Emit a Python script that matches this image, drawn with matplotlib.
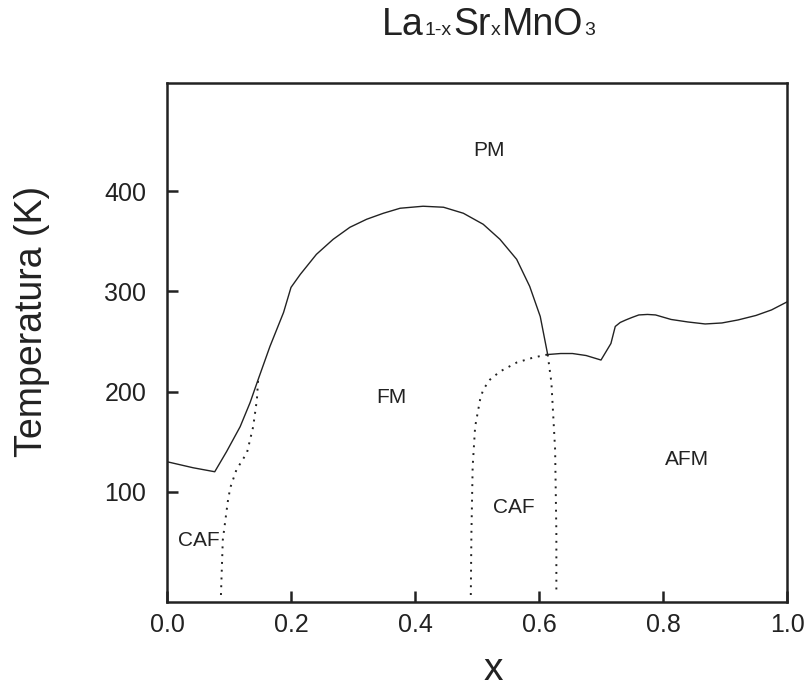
import numpy as np
import matplotlib
matplotlib.use("Agg")
import matplotlib.pyplot as plt

plt.rcParams['font.family'] = ['Liberation Sans', 'DejaVu Sans']

# solid boundary, x = 0 .. 0.614 (CAF/FM -> PM)
xa = [0.0, 0.042, 0.077, 0.096, 0.118, 0.134, 0.147, 0.166, 0.188, 0.200,
      0.215, 0.241, 0.268, 0.295, 0.322, 0.349, 0.376, 0.413, 0.446, 0.478,
      0.510, 0.537, 0.564, 0.585, 0.602, 0.614]
ta = [130, 124, 120, 140, 165, 189, 212, 245, 279, 304,
      317, 337, 352, 364, 372, 378, 383, 385, 384, 378,
      367, 352, 332, 305, 275, 237]

# solid boundary, x = 0.614 .. 1.0 (AFM -> PM)
xb = [0.614, 0.635, 0.654, 0.676, 0.700, 0.716, 0.723, 0.731, 0.740, 0.750,
      0.761, 0.775, 0.788, 0.813, 0.840, 0.868, 0.895, 0.921, 0.950, 0.975, 1.0]
tb = [237, 238, 238, 236, 231.5, 248, 265, 269, 271.5, 274,
      276.5, 277, 276.5, 272, 269.5, 267.5, 268.5, 271.5, 276, 281.5, 289.5]

# dotted boundaries
xc1 = [0.087, 0.090, 0.098, 0.102, 0.112, 0.129, 0.139, 0.145, 0.147]
tc1 = [-3, 52, 90, 104, 122, 139, 165, 192, 212]

xc2 = [0.490, 0.491, 0.493, 0.497, 0.505, 0.510, 0.521, 0.537, 0.564, 0.591, 0.614]
tc2 = [-3, 59, 125, 165, 192, 202, 212, 220, 229, 234, 237]

xc3 = [0.614, 0.620, 0.626, 0.628, 0.628]
tc3 = [237, 209, 142, 59, -3]

phases = ['PM', 'FM', 'CAF', 'CAF', 'AFM']
phase_x = [0.52, 0.362, 0.051, 0.560, 0.838]
phase_t = [441, 194, 51, 84, 132]

# title pieces: (text, is_subscript)
title_parts = [('La', False), ('1-x', True), ('Sr', False), ('x', True),
               ('MnO', False), ('3', True)]

fig = plt.figure(figsize=(8.08, 6.89), dpi=100)
ax = fig.add_axes([167 / 808, 87 / 689, 620 / 808, 519 / 689])

c = '#222222'
ax.plot(xa, ta, color=c, lw=1.0)
ax.plot(xb, tb, color=c, lw=1.0)
for xs, ts in [(xc1, tc1), (xc2, tc2), (xc3, tc3)]:
    ax.plot(xs, ts, color=c, lw=1.4, linestyle=(0, (1, 3)))

for name, px, pt in zip(phases, phase_x, phase_t):
    ax.text(px, pt, name, fontsize=15, ha='center', va='center', color=c)

ax.set_xlim(0, 1)
ax.set_ylim(-10, 508)
ax.set_xticks([0.0, 0.2, 0.4, 0.6, 0.8, 1.0])
ax.set_xticklabels(['0.0', '0.2', '0.4', '0.6', '0.8', '1.0'])
ax.set_yticks([100, 200, 300, 400])
ax.tick_params(direction='in', length=8, width=1.8, labelsize=18,
               colors=c, labelcolor=c)
ax.tick_params(axis='y', pad=15)
ax.tick_params(axis='x', pad=8)
for s in ax.spines.values():
    s.set_linewidth(1.8)
    s.set_color(c)

ax.set_ylabel('Temperatura (K)', fontsize=27, color=c)
ax.yaxis.set_label_coords(-0.189, 0.54)
ax.set_xlabel('x', fontsize=28, color=c)
ax.xaxis.label.set_va('center')
ax.xaxis.set_label_coords(0.527, -0.131)

# title built piece by piece so the subscripts are small and sit on the baseline
renderer = fig.canvas.get_renderer()
x_px = 382
base_px = 689 - 35
for txt, sub in title_parts:
    t = fig.text(x_px / 808, base_px / 689, txt, fontsize=14 if sub else 27,
                 ha='left', va='baseline', color=c)
    x_px += t.get_window_extent(renderer).width + 1

fig.savefig('out.png', dpi=100)
